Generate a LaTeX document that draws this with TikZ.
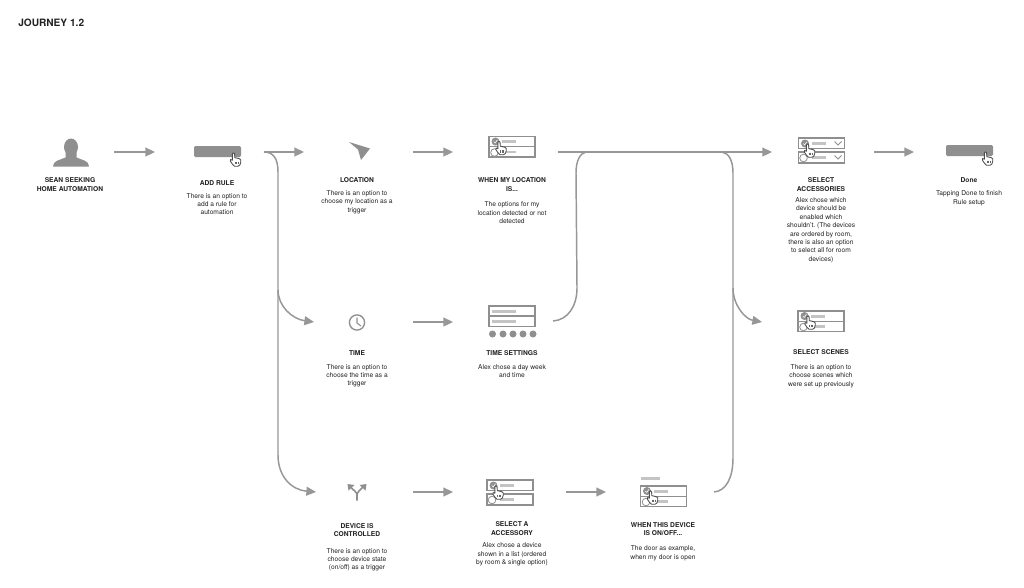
\documentclass[tikz,border=0pt]{standalone}
\usepackage{fontspec}
\setmainfont{TeX Gyre Heros}
\usetikzlibrary{arrows.meta}
\definecolor{linegray}{HTML}{979797}
\definecolor{iconfill}{HTML}{8F8F8F}
\definecolor{barlight}{HTML}{C4C4C4}
\definecolor{ink}{HTML}{222222}
\tikzset{
  x=0.75pt,y=-0.75pt,
  flow/.style={draw=linegray,line width=1.1pt,-{Triangle[length=7.2pt,width=6.6pt,fill=linegray]}},
  flowplain/.style={draw=linegray,line width=1.1pt},
  ttl/.style={font=\frenchspacing\fontsize{5}{6.2}\selectfont\bfseries,text=ink,align=center,inner sep=0pt},
  bodytxt/.style={font=\frenchspacing\fontsize{5}{6.27}\selectfont,text=ink,align=center,inner sep=0pt,anchor=north},
  boxline/.style={draw=iconfill,line width=0.8pt,fill=white},
  pics/hand/.style={code={
    \draw[fill=white,draw=black!70,line width=0.65pt,line join=round]
      (-2.6,-5.6) .. controls (-2.6,-7.2) and (-0.4,-7.2) .. (-0.4,-5.6) -- (-0.2,-1.8)
      -- (2,-1.4) -- (4.6,-0.7) .. controls (5.8,-0.2) and (6.1,1) .. (5.8,2.4)
      .. controls (5.6,4.8) and (4.6,6.8) .. (2.9,6.8) -- (-0.5,6.8)
      .. controls (-2,6) and (-3.2,3.6) .. (-4.6,1.7)
      .. controls (-5.6,0.2) and (-3.9,-0.7) .. (-2.6,0.7) -- cycle;
    \draw[black!60,line width=0.4pt] (0,2) -- (0,4.6) (1.6,2) -- (1.6,4.6) (3.2,2) -- (3.2,4.6);
  }},
  pics/listicon/.style={code={
    \draw[boxline] (0,0) rectangle (46,20.5);
    \draw[iconfill,line width=0.8pt] (0,10.2) -- (46,10.2);
    \fill[barlight] (13,3.9) rectangle (27,6.7);
    \fill[barlight] (13,14) rectangle (27,16.8);
    \draw[fill=iconfill,draw=iconfill,line width=0.5pt] (6.5,5) circle (3.6);
    \draw[white,line width=0.45pt] (4.8,5) -- (6.2,6.4) -- (8.4,3.4);
    \draw[fill=white,draw=iconfill,line width=0.6pt] (5.5,16) circle (3.8);
    \pic at (11.5,11.5) {hand};
  }},
  pics/splitlist/.style={code={
    \draw[boxline] (0,0) rectangle (46,10.5);
    \draw[boxline] (0,14) rectangle (46,25);
    \fill[barlight] (13,3.9) rectangle (27,6.7);
    \fill[barlight] (13,18) rectangle (27,20.8);
    \draw[fill=iconfill,draw=iconfill,line width=0.5pt] (6.5,5.5) circle (3.6);
    \draw[white,line width=0.45pt] (4.8,5.5) -- (6.2,6.9) -- (8.4,3.9);
    \draw[fill=white,draw=iconfill,line width=0.6pt] (5,20) circle (3.8);
    \pic at (10.5,12.5) {hand};
  }},
  pics/button/.style={code={
    \fill[iconfill,rounded corners=1pt] (0,0) rectangle (47,11);
    \pic at (41,13.5) {hand};
  }},
}
\begin{document}
\begin{tikzpicture}
\useasboundingbox (0,0) rectangle (1024,587);
\fill[white] (0,0) rectangle (1024,587);

\node[font=\fontsize{7.6}{9}\selectfont\bfseries,text=ink,anchor=west,inner sep=0pt] (journey) at (18,22.5) {JOURNEY 1.2};

% connector ends
\coordinate (userOut) at (114,152);
\coordinate (addIn) at (155,152);
\coordinate (addOut) at (264,152);
\coordinate (locIn) at (304,152);
\coordinate (trunkTop) at (278,172);
\coordinate (trunkTime) at (278,290);
\coordinate (trunkDev) at (278,455);
\coordinate (timeIn) at (314,322);
\coordinate (devIn) at (316,492);
\coordinate (locOut) at (413,152);
\coordinate (whenIn) at (453,152);
\coordinate (whenOut) at (558,152);
\coordinate (accIn) at (772,152);
\coordinate (timeOut) at (413,322);
\coordinate (setIn) at (453,322);
\coordinate (setOut) at (553,321);
\coordinate (mergeLow) at (577,288);
\coordinate (mergeHigh) at (576,173);
\coordinate (mergeTop) at (586,152);
\coordinate (devOut) at (413,492);
\coordinate (selIn) at (453,492);
\coordinate (selOut) at (566,492);
\coordinate (wdIn) at (606,492);
\coordinate (wdOut) at (714,492);
\coordinate (rightLow) at (733,458);
\coordinate (rightScene) at (733,288);
\coordinate (rightHigh) at (733,173);
\coordinate (rightTop) at (722,152);
\coordinate (sceneIn) at (762,322);
\coordinate (accOut) at (874,152);
\coordinate (doneIn) at (914,152);

% connectors
\draw[flow] (userOut) -- (addIn);
\draw[flow] (addOut) -- (locIn);
\draw[flowplain] (addOut) .. controls (273,152) and (278,158) .. (trunkTop) -- (trunkDev);
\draw[flow] (trunkTime) .. controls (278,306) and (292,319) .. (timeIn);
\draw[flow] (trunkDev) .. controls (278,477) and (292,490) .. (devIn);
\draw[flow] (locOut) -- (whenIn);
\draw[flow] (whenOut) -- (accIn);
\draw[flow] (timeOut) -- (setIn);
\draw[flowplain] (setOut) .. controls (568,320) and (577,306) .. (mergeLow) -- (mergeHigh) .. controls (576,161) and (580,153) .. (mergeTop);
\draw[flow] (devOut) -- (selIn);
\draw[flow] (selOut) -- (wdIn);
\draw[flowplain] (wdOut) .. controls (726,491) and (733,478) .. (rightLow) -- (rightHigh) .. controls (733,161) and (729,153) .. (rightTop);
\draw[flow] (rightScene) .. controls (733,305) and (745,319) .. (sceneIn);
\draw[flow] (accOut) -- (doneIn);

% user icon
\fill[iconfill] (71,147) ellipse (7 and 8.5);
\fill[iconfill] (53,166.5) .. controls (53,160.5) and (60,160) .. (65.5,157.5) -- (65.5,152) -- (76.5,152) -- (76.5,157.5)
  .. controls (82,160) and (89,160.5) .. (89,166.5) -- cycle;

% buttons
\pic at (194,146) {button};
\pic at (946,145) {button};

% location arrow
\fill[iconfill] (349,142) -- (370,148.5) -- (361,160) -- (358,149.5) -- cycle;

% clock
\draw[iconfill,line width=1pt] (357,322.5) circle (7.6);
\draw[iconfill,line width=0.8pt] (357,317.5) -- (357,323) -- (361,326);

% fork
\draw[iconfill,line width=1.2pt] (357,500.5) -- (357,495) .. controls (357,492.5) and (354,490.5) .. (351,487.5);
\draw[iconfill,line width=1.2pt] (357,495) .. controls (357,492.5) and (360,490) .. (363,487);
\fill[iconfill] (347.5,484) -- (354.5,485) -- (348.5,490.5) -- cycle;
\fill[iconfill] (366.5,484) -- (359.5,485) -- (365.5,490.5) -- cycle;

% list icons
\pic at (489,136.5) {listicon};
\pic at (798,311) {listicon};
\pic at (640.5,486) {listicon};
\pic at (487,480) {splitlist};

% accessories (with chevrons)
\pic at (798.5,138) {splitlist};
\draw[iconfill,line width=0.6pt] (834.5,141.5) -- (838,145) -- (841.5,141.5);
\draw[iconfill,line width=0.6pt] (834.5,155.5) -- (838,159) -- (841.5,155.5);

% time settings
\draw[boxline] (489,306) rectangle (535,326.5);
\draw[iconfill,line width=0.8pt] (489,316) -- (535,316);
\fill[barlight] (492,309.5) rectangle (516,312.5);
\fill[barlight] (492,319.5) rectangle (516,322.5);
\foreach \dx in {492.5,503,513,523,533}{\fill[iconfill] (\dx,334) circle (3.5);}

% bar above when-device
\fill[barlight] (640.5,476.5) rectangle (660,479.5);

% labels
\node[ttl] (tUser) at (70,184.5) {SEAN SEEKING\\HOME AUTOMATION};

\node[ttl] (tAdd) at (217,183) {ADD RULE};
\node[bodytxt] (bAdd) at (217,193) {There is an option to\\add a rule for\\automation};

\node[ttl] (tLoc) at (357,180) {LOCATION};
\node[bodytxt] (bLoc) at (357,190.5) {There is an option to\\choose my location as a\\trigger};

\node[ttl] (tWhen) at (512,184.5) {WHEN MY LOCATION\\IS...};
\node[bodytxt] (bWhen) at (512,201.5) {The options for my\\location detected or not\\detected};

\node[ttl] (tAcc) at (821,184.5) {SELECT\\ACCESSORIES};
\node[bodytxt] (bAcc) at (821,197.5) {Alex chose which\\device should be\\enabled which\\shouldn't. (The devices\\are ordered by room,\\there is also an option\\to select all for room\\devices)};

\node[ttl] (tDone) at (969,180) {Done};
\node[bodytxt] (bDone) at (969,190.5) {Tapping Done to finish\\Rule setup};

\node[ttl] (tTime) at (357,353) {TIME};
\node[bodytxt] (bTime) at (357,364) {There is an option to\\choose the time as a\\trigger};

\node[ttl] (tSet) at (512,353) {TIME SETTINGS};
\node[bodytxt] (bSet) at (512,364) {Alex chose a day week\\and time};

\node[ttl] (tScene) at (821,352) {SELECT SCENES};
\node[bodytxt] (bScene) at (821,364.5) {There is an option to\\choose scenes which\\were set up previously};

\node[ttl] (tDev) at (357,530) {DEVICE IS\\CONTROLLED};
\node[bodytxt] (bDev) at (357,548) {There is an option to\\choose device state\\(on/off) as a trigger};

\node[ttl] (tSel) at (512,528.5) {SELECT A\\ACCESSORY};
\node[bodytxt] (bSel) at (512,542.5) {Alex chose a device\\shown in a list (ordered\\by room \& single option)};

\node[ttl] (tWd) at (663,529) {WHEN THIS DEVICE\\IS ON/OFF...};
\node[bodytxt] (bWd) at (663,545.5) {The door as example,\\when my door is open};
\end{tikzpicture}
\end{document}
